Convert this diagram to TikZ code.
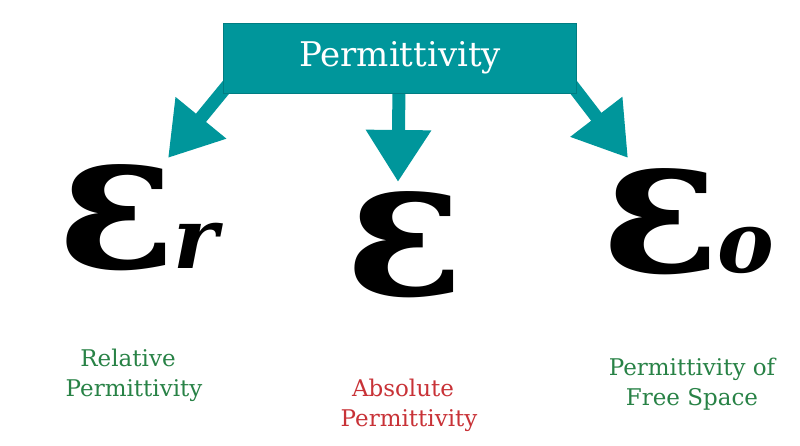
\documentclass[tikz,border=0pt]{standalone}
\usepackage{fontspec}
\setmainfont{DejaVu Serif}
\usetikzlibrary{arrows.meta}
\definecolor{tealbox}{RGB}{0,150,155}
\definecolor{tealedge}{RGB}{0,125,130}
\definecolor{labelgreen}{RGB}{40,130,70}
\definecolor{labelred}{RGB}{200,50,55}
\begin{document}
\begin{tikzpicture}[x=1pt, y=-1pt, >=Latex]

  % Styles
  \tikzset{
    title/.style={rectangle, fill=tealbox, draw=tealedge, minimum width=353pt, minimum height=70pt, text=white, font=\fontsize{34}{38}\selectfont},
    fatarrow/.style={draw=tealbox, line width=13pt, -{Triangle[length=52pt, width=62pt, fill=tealbox]}},
    symbol/.style={font=\fontsize{195}{195}\selectfont\bfseries},
    caption/.style={align=center, font=\fontsize{23}{30}\selectfont}
  }

  \useasboundingbox (0,0) rectangle (800,446);

  % Arrows
  \coordinate (lefttip) at (168,158);
  \coordinate (midtip) at (398,182);
  \coordinate (righttip) at (628,158);
  \draw[fatarrow] (232,80) -- (lefttip);
  \draw[fatarrow] (399,85) -- (midtip);
  \draw[fatarrow] (568,80) -- (righttip);

  % Nodes
  \node[title] (perm) at (400,58) {Permittivity};
  \node[symbol] (epsr) at (138,218) {ε\kern-2pt{\fontsize{85}{85}\selectfont\itshape r}};
  \node[symbol] (eps) at (405,245) {ε};
  \node[symbol] (eps0) at (688,222) {ε\kern-2pt{\fontsize{85}{85}\selectfont\itshape o}};
  \node[caption, text=labelgreen] (relative) at (128,375) {Relative\\\hspace*{12pt}Permittivity};
  \node[caption, text=labelred] (absolute) at (403,405) {Absolute\\\hspace*{12pt}Permittivity};
  \node[caption, text=labelgreen] (free) at (692,384) {Permittivity of\\Free Space};

\end{tikzpicture}
\end{document}
